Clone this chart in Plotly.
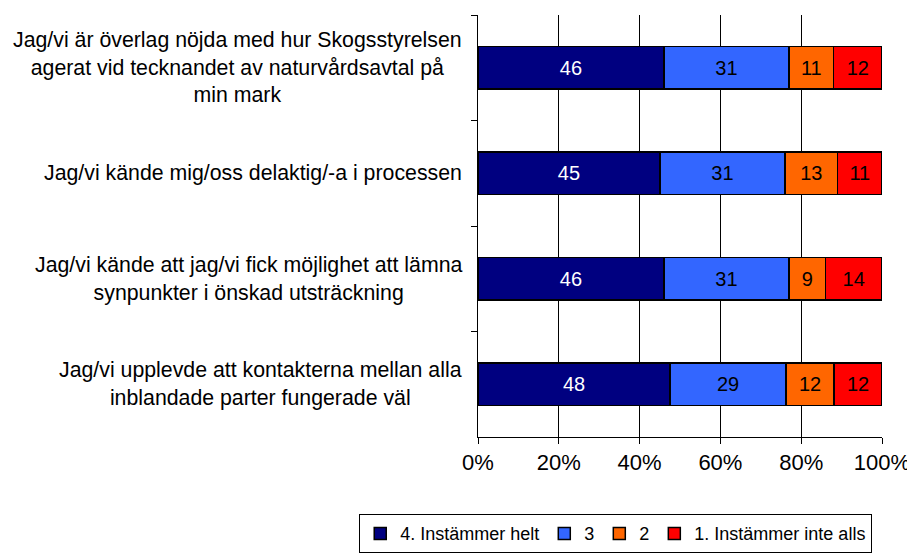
import plotly.graph_objects as go

categories = [
    "Jag/vi är överlag nöjda med hur Skogsstyrelsen<br>agerat vid tecknandet av naturvårdsavtal på<br>min mark",
    "Jag/vi kände mig/oss delaktig/-a i processen",
    "Jag/vi kände att jag/vi fick möjlighet att lämna<br>synpunkter i önskad utsträckning",
    "Jag/vi upplevde att kontakterna mellan alla<br>inblandade parter fungerade väl",
]
series_names = ["4. Instämmer helt", "3", "2", "1. Instämmer inte alls"]
v4 = [46, 45, 46, 48]
v3 = [31, 31, 31, 29]
v2 = [11, 13, 9, 12]
v1 = [12, 11, 14, 12]
colors = ["#000080", "#3366FF", "#FF6600", "#FF0000"]
text_colors = ["white", "black", "black", "black"]
x_ticks = [0, 20, 40, 60, 80, 100]

FONT = "Liberation Sans, Arial"
ids = [f"c{i}" for i in range(len(categories))]

fig = go.Figure()
for name, vals, col, tc in zip(series_names, [v4, v3, v2, v1], colors, text_colors):
    fig.add_trace(go.Bar(
        y=ids, x=vals, name=name, orientation="h",
        marker=dict(color=col, line=dict(color="black", width=1.5)),
        text=vals, texttemplate="%{text}", textposition="inside",
        insidetextanchor="middle", textangle=0,
        textfont=dict(color=tc, size=20, family=FONT),
        constraintext="none",
    ))

for cid, lab in zip(ids, categories):
    fig.add_annotation(
        x=0, xref="paper", y=cid, yref="y", text=lab, showarrow=False,
        xanchor="right", yanchor="middle", align="center", xshift=-14,
        font=dict(size=21.3, family=FONT, color="black"),
    )

fig.update_layout(
    barmode="stack", barnorm="percent", bargap=0.6,
    width=907, height=548, autosize=False,
    margin=dict(l=470, r=33, t=7, b=119, autoexpand=False),
    plot_bgcolor="white", paper_bgcolor="white",
    font=dict(family=FONT, color="black", size=18),
    showlegend=True,
    legend=dict(
        orientation="h", xref="paper", yref="paper",
        x=-0.294, xanchor="left", y=-0.183, yanchor="top",
        bordercolor="black", borderwidth=1, font=dict(size=18),
        traceorder="normal", itemwidth=30, tracegroupgap=0,
    ),
)
fig.update_xaxes(
    range=[0, 100], tickvals=x_ticks, ticktext=[f"{t}%" for t in x_ticks],
    showgrid=True, gridcolor="black", gridwidth=1,
    showline=True, linecolor="black", linewidth=1,
    ticks="outside", ticklen=6, tickcolor="black",
    tickfont=dict(size=22), zeroline=False, fixedrange=True,
)
fig.update_yaxes(
    autorange="reversed", showticklabels=False,
    showline=True, linecolor="black", linewidth=1,
    ticks="outside", ticklen=6, tickcolor="black", tickson="boundaries",
    showgrid=False, zeroline=False,
)

fig.write_html("out.html")
